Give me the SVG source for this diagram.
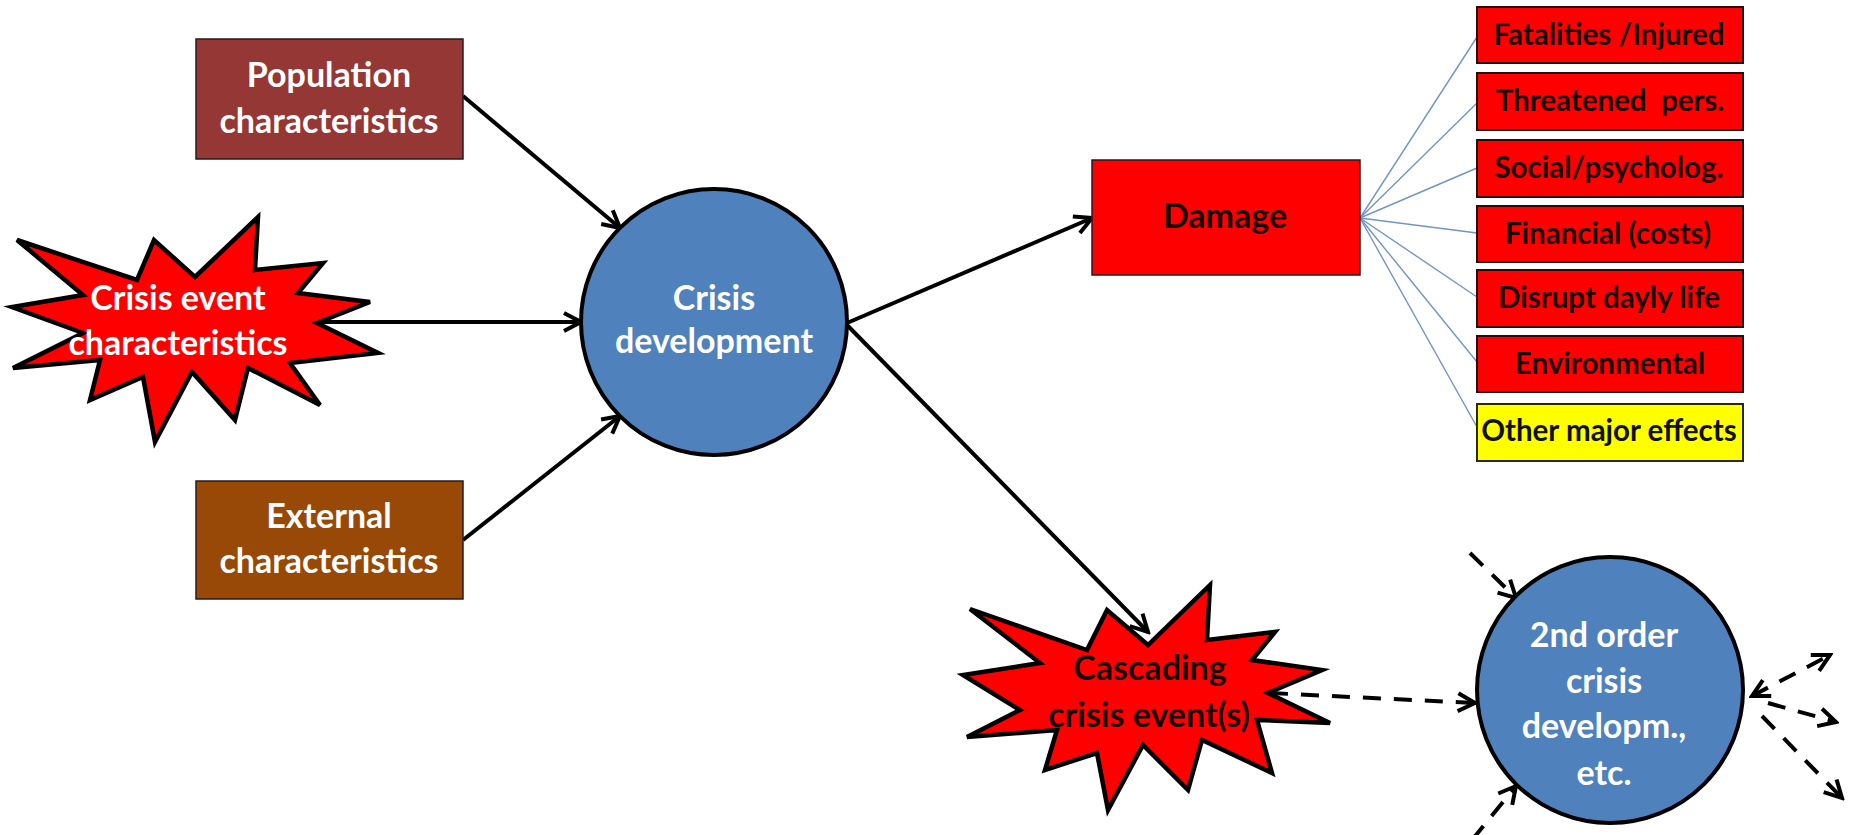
<svg xmlns="http://www.w3.org/2000/svg" width="1850" height="835" viewBox="0 0 1850 835">
<style>
.t{font-family:Lato,"Liberation Sans",sans-serif;font-weight:bold;text-anchor:middle}
.big{font-size:34px}
.li{font-size:29.5px;fill:#1a0505}
.w{fill:#ffffff}
.d{fill:#1a0505}
.box{stroke:#2a1a1a;stroke-width:1.5}
.lb{fill:#ff0000;stroke:#2a0a0a;stroke-width:2}
.star{fill:#ff0000;stroke:#000;stroke-width:4.5;stroke-linejoin:miter}
.circ{fill:#4f81bd;stroke:#000;stroke-width:4}
.ar{fill:none;stroke:#000;stroke-width:4;marker-end:url(#ah)}
.da{fill:none;stroke:#000;stroke-width:4;stroke-dasharray:18 13;marker-end:url(#ah)}
.fan{fill:none;stroke:#7295c4;stroke-width:1.4}
</style>
<defs>
<marker id="ah" viewBox="0 0 24 24" refX="21" refY="12" markerWidth="24" markerHeight="24" markerUnits="userSpaceOnUse" orient="auto-start-reverse">
<path d="M4,3 L21,12 L4,21" fill="none" stroke="#000" stroke-width="4" stroke-dasharray="none"/>
</marker>
</defs>
<rect width="1850" height="835" fill="#ffffff"/>

<g id="connectors">
<line class="ar" x1="463" y1="96" x2="620" y2="228"/>
<line class="ar" x1="317" y1="322" x2="581" y2="322"/>
<line class="ar" x1="463" y1="540" x2="620" y2="416"/>
<line class="ar" x1="847" y1="323" x2="1092" y2="218"/>
<line class="ar" x1="847" y1="325" x2="1148" y2="632"/>
<g id="fan">
<line class="fan" x1="1360" y1="218" x2="1477" y2="37"/>
<line class="fan" x1="1360" y1="218" x2="1477" y2="103"/>
<line class="fan" x1="1360" y1="218" x2="1477" y2="168"/>
<line class="fan" x1="1360" y1="218" x2="1477" y2="233"/>
<line class="fan" x1="1360" y1="218" x2="1477" y2="297"/>
<line class="fan" x1="1360" y1="218" x2="1477" y2="362"/>
<line class="fan" x1="1360" y1="218" x2="1477" y2="427"/>
</g>
<line class="da" x1="1270" y1="693" x2="1475" y2="703"/>
<line class="da" x1="1470" y1="553" x2="1516" y2="598"/>
<line class="da" x1="1472" y1="840" x2="1516" y2="786"/>
<line class="da" x1="1752" y1="696" x2="1830" y2="655" style="marker-start:url(#ah)"/>
<line class="da" x1="1768" y1="703" x2="1836" y2="722"/>
<line class="da" x1="1762" y1="716" x2="1842" y2="798"/>
</g>

<g id="population">
<rect class="box" x="196" y="39" width="267" height="120" fill="#953735"/>
<text class="t big w" x="329" y="87">Population</text>
<text class="t big w" x="329" y="133">characteristics</text>
</g>

<g id="crisis-event">
<polygon class="star" points="17,240 137,280 154,240 195,277 258,217 255,270 323,263 298,293 370,302 317,323 378,353 290,363 320,405 248,368 235,420 192,372 155,442 143,377 90,400 100,360 13,368 83,333 12,307 83,295"/>
<text class="t big w" x="178" y="310">Crisis event</text>
<text class="t big w" x="178" y="355">characteristics</text>
</g>

<g id="external">
<rect class="box" x="196" y="481" width="267" height="118" fill="#984807"/>
<text class="t big w" x="329" y="528">External</text>
<text class="t big w" x="329" y="573">characteristics</text>
</g>

<g id="crisis-development">
<circle class="circ" cx="714" cy="322" r="133"/>
<text class="t big w" x="714" y="310">Crisis</text>
<text class="t big w" x="714" y="353">development</text>
</g>

<g id="damage">
<rect class="box" x="1092" y="160" width="268" height="115" fill="#ff0000"/>
<text class="t big d" x="1225" y="228">Damage</text>
</g>

<g id="damage-list">
<g id="fatalities"><rect class="lb" x="1477" y="7" width="266" height="56"/><text class="t li" x="1609" y="45">Fatalities /Injured</text></g>
<g id="threatened"><rect class="lb" x="1477" y="73" width="266" height="57"/><text class="t li" x="1610" y="111" style="white-space:pre">Threatened  pers.</text></g>
<g id="social"><rect class="lb" x="1477" y="140" width="266" height="57"/><text class="t li" x="1609" y="178">Social/psycholog.</text></g>
<g id="financial"><rect class="lb" x="1477" y="206" width="266" height="56"/><text class="t li" x="1608" y="244">Financial (costs)</text></g>
<g id="disrupt"><rect class="lb" x="1477" y="270" width="266" height="57"/><text class="t li" x="1609" y="308">Disrupt dayly life</text></g>
<g id="environmental"><rect class="lb" x="1477" y="336" width="266" height="56"/><text class="t li" x="1610" y="374">Environmental</text></g>
<g id="other"><rect x="1477" y="404" width="266" height="57" fill="#ffff00" stroke="#2a2a0a" stroke-width="2"/><text class="t li" x="1609" y="441" style="fill:#111">Other major effects</text></g>
</g>

<g id="cascading">
<polygon class="star" points="970,609 1087,650 1107,610 1148,645 1210,585 1207,640 1275,632 1252,660 1322,670 1268,693 1330,723 1257,720 1272,773 1202,740 1188,790 1143,745 1108,810 1097,753 1045,770 1057,730 967,737 1020,710 963,675 1040,663"/>
<text class="t big d" x="1150" y="680">Cascading</text>
<text class="t big d" x="1149" y="727">crisis event(s)</text>
</g>

<g id="second-order">
<circle class="circ" cx="1610" cy="690" r="133"/>
<text class="t big w" x="1604" y="647">2nd order</text>
<text class="t big w" x="1604" y="693">crisis</text>
<text class="t big w" x="1604" y="738">developm.,</text>
<text class="t big w" x="1604" y="785">etc.</text>
</g>
</svg>
